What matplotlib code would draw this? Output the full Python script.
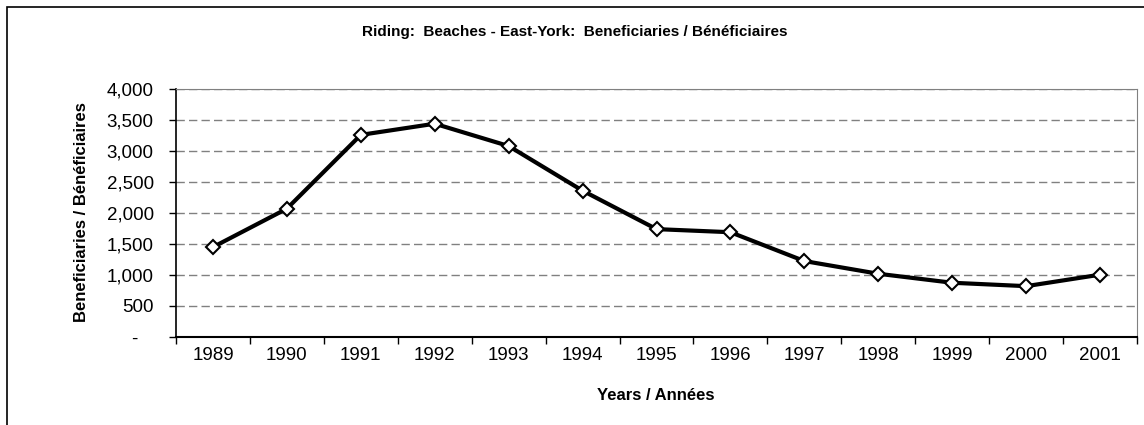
import matplotlib.pyplot as plt
from matplotlib import font_manager
from matplotlib.patches import Rectangle
from matplotlib.ticker import FixedLocator, FuncFormatter
import numpy as np

years = ["1989", "1990", "1991", "1992", "1993", "1994", "1995",
         "1996", "1997", "1998", "1999", "2000", "2001"]
beneficiaries = [1450, 2070, 3260, 3440, 3080, 2360, 1740,
                 1690, 1225, 1020, 875, 820, 1005]

names = {f.name for f in font_manager.fontManager.ttflist}
narrow = "Liberation Sans Narrow" if "Liberation Sans Narrow" in names else "Liberation Sans"
plt.rcParams["font.family"] = ["Liberation Sans", "DejaVu Sans"]

W, H = 1144, 425
fig = plt.figure(figsize=(W / 100, H / 100), dpi=100)
fig.patch.set_facecolor("white")

# outer frame (only top/left visible in the reference)
fig.patches.append(Rectangle((7 / W, -0.1), 1.2, 1 - 7 / H + 0.1, transform=fig.transFigure,
                             fill=False, edgecolor="black", linewidth=1.2))

left, right, top, bottom = 176, 1137, 89, 337
ax = fig.add_axes([left / W, 1 - bottom / H, (right - left) / W, (bottom - top) / H])

x = np.arange(len(years))
ax.plot(x, beneficiaries, color="black", linewidth=3, marker="D", markersize=7,
        markerfacecolor="white", markeredgecolor="black", markeredgewidth=1.5, zorder=3)

ax.set_xlim(-0.5, len(years) - 0.5)
ax.set_ylim(0, 4000)

# x ticks at category boundaries, labels in the middle
ax.xaxis.set_major_locator(FixedLocator(np.arange(-0.5, len(years), 1.0)))
ax.xaxis.set_major_formatter(FuncFormatter(lambda v, p: ""))
ax.xaxis.set_minor_locator(FixedLocator(x))
ax.set_xticklabels(years, minor=True)
ax.tick_params(axis="x", which="major", direction="out", length=5, width=1)
ax.tick_params(axis="x", which="minor", length=0, pad=7, labelsize=13.5)

ax.set_yticks(np.arange(0, 4001, 500))
ax.yaxis.set_major_formatter(FuncFormatter(lambda v, p: "-   " if v == 0 else f"{int(v):,}"))
ax.tick_params(axis="y", direction="out", length=5, width=1, pad=11, labelsize=13.5)

ax.yaxis.grid(True, color="#808080", linewidth=1, linestyle=(0, (6, 3)))
ax.set_axisbelow(True)

ax.spines["left"].set_color("black")
ax.spines["bottom"].set_color("black")
ax.spines["left"].set_linewidth(1.2)
ax.spines["bottom"].set_linewidth(1.5)
ax.spines["top"].set_color("#808080")
ax.spines["right"].set_color("#808080")

fig.text(575 / W, 1 - 32 / H, "Riding:  Beaches - East-York:  Beneficiaries / Bénéficiaires",
         ha="center", va="center", fontsize=11, fontweight="bold", family=narrow)
fig.text(656 / W, 1 - 395 / H, "Years / Années", ha="center", va="center",
         fontsize=12, fontweight="bold", family=narrow)
fig.text(82 / W, 1 - 212 / H, "Beneficiaries / Bénéficiaires", ha="center", va="center",
         rotation=90, fontsize=12, fontweight="bold", family=narrow)

fig.savefig("out.png", dpi=100)
